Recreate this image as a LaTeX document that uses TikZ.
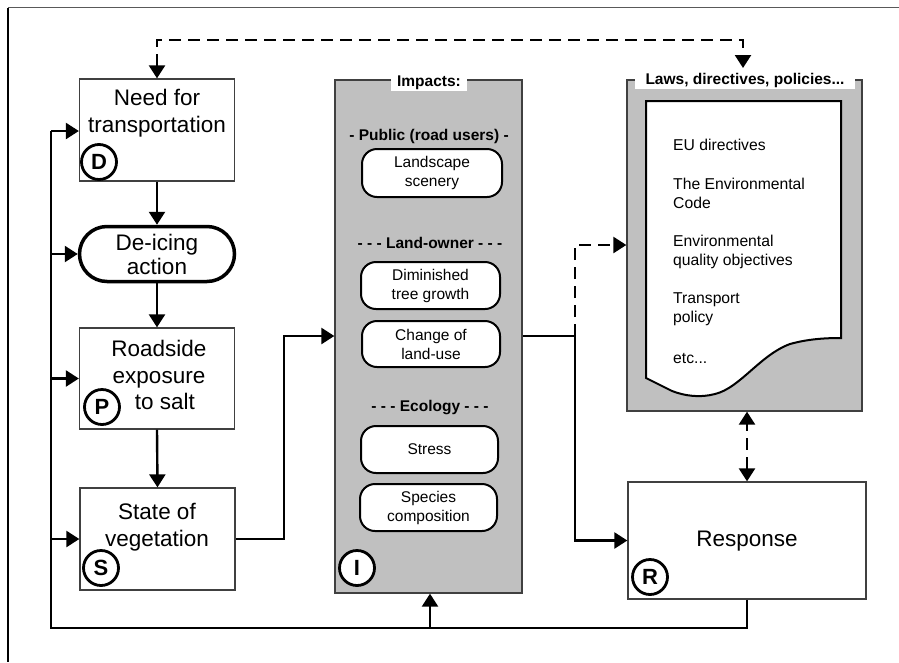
\documentclass[tikz,border=0pt]{standalone}
\usepackage{fontspec}
\setmainfont{Liberation Sans}
\usetikzlibrary{arrows.meta,shapes.misc}
\definecolor{panel}{HTML}{C0C0C0}
\definecolor{edge}{HTML}{404040}
\tikzset{
  bigbox/.style={draw=edge,line width=1.3pt,fill=white,rectangle,inner sep=0pt},
  bigtxt/.style={font=\fontsize{22.5}{26.5}\selectfont,align=center,inner sep=0pt},
  letter/.style={circle,draw=black,line width=2.8pt,fill=white,minimum size=35pt,inner sep=0pt,font=\fontsize{22}{22}\selectfont\bfseries},
  pill/.style={draw=black,line width=2pt,rectangle,rounded corners=15pt,fill=white,inner sep=0pt,font=\fontsize{15.5}{19}\selectfont,align=center},
  hdr/.style={font=\fontsize{15.5}{17}\selectfont\bfseries,inner sep=0pt},
  ttl/.style={fill=white,font=\fontsize{15.5}{17}\selectfont\bfseries,inner sep=0pt},
  doctxt/.style={anchor=west,font=\fontsize{15.7}{19}\selectfont,align=left,inner sep=0pt},
  conn/.style={line width=2.4pt,draw=black},
  arr/.style={conn,-{Triangle[length=13pt,width=16pt]}},
  darr/.style={conn,dash pattern=on 12pt off 7pt,-{Triangle[length=13pt,width=16pt]}},
  ddarr/.style={conn,dash pattern=on 12pt off 7pt,{Triangle[length=13pt,width=16pt]}-{Triangle[length=13pt,width=16pt]}}
}
\begin{document}
\begin{tikzpicture}[x=1pt,y=-1pt]
\useasboundingbox (0,0) rectangle (899,662);
% frame
\draw[line width=1.6pt,draw=black!65] (8,7.5) -- (899,7.5);
\draw[line width=1.6pt,draw=black] (8,7.5) -- (8,662);

% left chain
\node[bigbox,minimum width=155pt,minimum height=102pt] (need) at (157,130) {};
\node[bigtxt] (needt) at (157,113) {Need for\\transportation};
\node[letter] (D) at (99,162) {D};

\node[rounded rectangle,draw=black,line width=3.5pt,fill=white,minimum width=155pt,minimum height=55pt,inner sep=0pt,font=\fontsize{22.5}{24}\selectfont,align=center] (deice) at (157,254) {De-icing\\action};

\node[bigbox,minimum width=155pt,minimum height=101pt] (road) at (157,378.5) {};
\node[bigtxt] (roadt) at (159,375) {Roadside\\exposure\\\hspace*{12pt}to salt};
\node[letter] (P) at (102,407) {P};

\node[bigbox,minimum width=155pt,minimum height=102pt] (state) at (157.5,539) {};
\node[bigtxt] (statet) at (157,527) {State of\\vegetation};
\node[letter] (S) at (101,568) {S};

% impacts panel
\node[draw=edge,line width=1.3pt,fill=panel,minimum width=187pt,minimum height=513pt,inner sep=0pt] (impact) at (428.5,336.5) {};
\node[ttl,minimum width=76pt,minimum height=16pt] (impt) at (429,83) {Impacts:};
\node[hdr] (pub) at (429,136) {- Public (road users) -};
\node[pill,minimum width=140pt,minimum height=48pt] (land) at (432,173) {Landscape\\scenery};
\node[hdr] (own) at (430,243) {- - - Land-owner - - -};
\node[pill,minimum width=139pt,minimum height=47pt] (dim) at (430.5,285.5) {Diminished\\tree growth};
\node[pill,minimum width=138pt,minimum height=46pt] (chg) at (431,344) {Change of\\land-use};
\node[hdr] (eco) at (430,408) {- - - Ecology - - -};
\node[pill,minimum width=137pt,minimum height=47pt] (stress) at (429.5,449.5) {Stress};
\node[pill,minimum width=137pt,minimum height=47pt] (spec) at (428.5,507.5) {Species\\composition};
\node[letter] (I) at (357,568) {I};

% laws panel
\node[draw=edge,line width=1.3pt,fill=panel,minimum width=235pt,minimum height=331pt,inner sep=0pt] (laws) at (744.5,245.5) {};
\node[ttl,minimum width=220pt,minimum height=17pt] (lawst) at (745,80.5) {Laws, directives, policies...};
\draw[line width=2pt,fill=white] (646,101) -- (841,101) -- (841,338)
  .. controls (825,338) and (808,339) .. (790,344)
  .. controls (760,355) and (740,388) .. (715,394)
  .. controls (700,398) and (685,396) .. (672,391)
  -- (646,378) -- cycle;
\node[doctxt] (eu) at (673,145) {EU directives};
\node[doctxt] (env) at (673,193.5) {The Environmental\\Code};
\node[doctxt] (eqo) at (673,251.5) {Environmental\\quality objectives};
\node[doctxt] (tp) at (673,309.5) {Transport\\policy};
\node[doctxt] (etc) at (673,358) {etc...};

% response
\node[bigbox,minimum width=238pt,minimum height=117pt] (resp) at (747,540.5) {};
\node[inner sep=0pt,font=\fontsize{22.5}{24}\selectfont] (respt) at (747,541) {Response};
\node[letter] (R) at (650,577) {R};

% coordinates
\coordinate (c1) at (284,336);
\coordinate (c2) at (575,336);
\coordinate (c3) at (575,245);
\coordinate (t1) at (157,40);
\coordinate (t2) at (743,40);
\coordinate (t3) at (743,68);
\coordinate (bl) at (51,628);
\coordinate (tl) at (51,131);
\coordinate (bi) at (430,628);

% connectors
\draw[arr] (need.south) -- (deice.north);
\draw[arr] (deice.south) -- (road.north);
\draw[arr] (road.south) -- (state.north);
\draw[arr] (state.east) -| (c1) -- (c1 -| impact.west);
\draw[conn] (c2 -| impact.east) -- (c2);
\draw[arr] (c2) |- (resp.west);
\draw[darr] (c2) -- (c3) -- (c3 -| laws.west);
\draw[ddarr] (need.north) -- (t1) -- (t2) -- (t3);
\draw[ddarr] (resp.north) -- (resp.north |- laws.south);
\draw[conn] (resp.south) |- (bl) -- (tl);
\draw[arr] (tl) -- (tl -| need.west);
\draw[arr] (bl |- deice.west) -- (deice.west);
\draw[arr] (bl |- road.west) -- (road.west);
\draw[arr] (bl |- state.west) -- (state.west);
\draw[arr] (bi) -- (bi |- impact.south);
\end{tikzpicture}
\end{document}
